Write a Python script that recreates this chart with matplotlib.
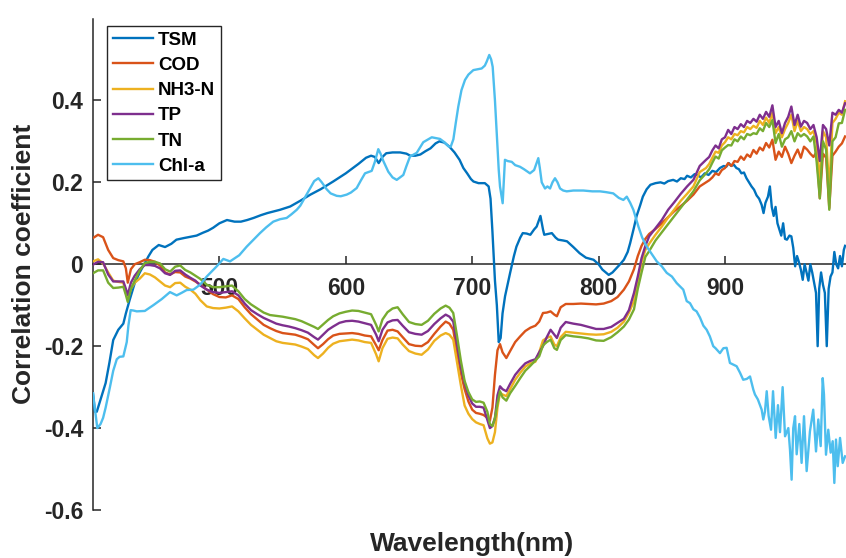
import numpy as np
import matplotlib
matplotlib.use("Agg")
import matplotlib.pyplot as plt

plt.rcParams['font.family'] = ['Liberation Sans', 'DejaVu Sans']
plt.rcParams['font.weight'] = 'bold'

# ---------------- data ----------------
series_names = ['TSM', 'COD', 'NH3-N', 'TP', 'TN', 'Chl-a']
colors = ['#0072BD', '#D95319', '#EDB120', '#7E2F8E', '#77AC30', '#4DBEEE']

tsm_wl = [400, 401.5, 403, 406, 410, 413, 416, 420, 424, 426,
          429, 433, 437, 440, 444, 447, 452, 457, 462, 466,
          472, 477, 482, 487, 491, 495, 500, 506, 512, 517,
          522, 527, 533, 538, 543, 548, 552, 556, 560, 564,
          572, 580, 590, 600, 610, 616, 620, 623, 626, 629,
          632, 637, 643, 648, 651, 655, 659, 663, 667, 671,
          674, 678, 682, 686, 690, 693, 696, 699, 701, 705,
          710, 713, 714.5, 716, 718, 719.5, 721, 722.5, 724, 726,
          730, 733, 735, 738, 740, 743, 746, 749, 751, 754,
          756, 757, 760, 763, 766, 768, 772, 775, 780, 785,
          790, 796, 800, 803, 808, 811, 814, 817, 820, 823,
          825, 828, 830, 833, 835, 838, 841, 845, 849, 852,
          855, 859, 862, 865, 868, 870, 873, 876, 878, 881,
          884, 887, 890, 893, 896, 899, 901, 903, 905, 907,
          909, 911, 913, 915, 917, 919, 921, 923, 925, 927,
          929, 930.5, 932, 934, 935.5, 937, 938.5, 940, 941.5, 943,
          944.5, 946, 947.5, 949, 951, 952.5, 954, 955.5, 957, 958.5,
          960, 961.5, 963, 964.5, 966, 967.5, 969, 970.5, 972, 973.3,
          974.5, 976, 977.5, 979, 980.5, 982, 983.5, 985, 986.5, 988,
          989.5, 991, 992.5, 994, 995]
tsm_r = [-0.315, -0.36, -0.36, -0.33, -0.29, -0.24, -0.185, -0.16, -0.145, -0.12,
         -0.087, -0.046, -0.02, -0.003, 0.02, 0.035, 0.047, 0.042, 0.05, 0.06,
         0.064, 0.067, 0.07, 0.077, 0.082, 0.089, 0.1, 0.108, 0.104, 0.104,
         0.108, 0.113, 0.12, 0.125, 0.129, 0.133, 0.137, 0.141, 0.148, 0.155,
         0.17, 0.183, 0.202, 0.222, 0.245, 0.26, 0.265, 0.262, 0.247, 0.262,
         0.271, 0.273, 0.273, 0.27, 0.265, 0.265, 0.268, 0.276, 0.283, 0.295,
         0.3, 0.297, 0.287, 0.273, 0.255, 0.235, 0.222, 0.208, 0.202, 0.198,
         0.198, 0.19, 0.16, 0.08, -0.04, -0.1, -0.19, -0.18, -0.12, -0.078,
         -0.021, 0.02, 0.043, 0.065, 0.076, 0.075, 0.072, 0.085, 0.092, 0.118,
         0.085, 0.072, 0.074, 0.076, 0.065, 0.06, 0.058, 0.056, 0.042, 0.027,
         0.016, 0.011, 0.0, -0.013, -0.026, -0.02, -0.01, 0.0, 0.011, 0.03,
         0.052, 0.09, 0.117, 0.145, 0.165, 0.183, 0.194, 0.198, 0.2, 0.197,
         0.203, 0.206, 0.202, 0.21, 0.208, 0.216, 0.212, 0.22, 0.218, 0.212,
         0.222, 0.218, 0.228, 0.225, 0.235, 0.24, 0.238, 0.247, 0.24, 0.243,
         0.235, 0.232, 0.222, 0.224, 0.21, 0.2, 0.19, 0.182, 0.168, 0.16,
         0.145, 0.125, 0.15, 0.165, 0.19, 0.14, 0.118, 0.14, 0.1, 0.085,
         0.07, 0.1, 0.062, 0.06, 0.07, 0.068, 0.04, -0.005, 0.02, 0.005,
         -0.013, -0.038, 0.0, -0.02, -0.04, 0.0, -0.02, -0.045, -0.07, -0.2,
         -0.06, -0.02, -0.05, -0.07, -0.2, -0.06, -0.03, -0.02, 0.03, 0.0,
         -0.01, 0.02, -0.005, 0.035, 0.045]

# shared wavelength grid for COD, NH3-N, TP, TN
wq_wl = [400, 404, 408, 412, 416, 420, 424, 426, 427.5, 430,
         433, 437, 441, 445, 449, 453, 457, 461, 465, 469,
         473, 477, 481, 485, 490, 495, 500, 505, 510, 515,
         520, 525, 530, 535, 540, 545, 550, 555, 560, 565,
         570, 575, 578, 582, 586, 590, 595, 600, 605, 610,
         615, 620, 624, 626, 629, 633, 637, 641, 645, 650,
         655, 660, 665, 670, 675, 679, 682, 685, 688, 691,
         694, 697, 700, 703, 706, 709, 712, 714, 716, 718,
         720, 722, 724, 727, 730, 734, 738, 742, 746, 750,
         753, 756, 759, 762, 765, 767, 770, 774, 780, 786,
         792, 798, 804, 810, 815, 820, 824, 828, 831, 834,
         837, 840, 845, 850, 855, 860, 865, 870, 875, 880,
         885,
         887.5, 890, 892.5, 895, 897.5, 900, 902.5, 905, 907.5, 910,
         912.5, 915, 917.5, 920, 922.5, 925, 927.5, 930, 932.5, 935,
         937.5, 940, 942.5, 945, 947.5, 950, 952.5, 955, 957.5, 960,
         962.5, 965, 967.5, 970, 972.5, 975, 977.5, 980, 982.5, 985,
         987.5, 990, 992.5, 995]

cod_r = [0.064, 0.072, 0.066, 0.035, 0.015, 0.01, 0.007, -0.01, -0.045, -0.012,
         0.0, 0.005, 0.011, 0.01, 0.006, -0.003, -0.02, -0.025, -0.019, -0.02,
         -0.03, -0.035, -0.042, -0.05, -0.062, -0.073, -0.08, -0.081, -0.076, -0.085,
         -0.105, -0.122, -0.135, -0.148, -0.156, -0.163, -0.168, -0.17, -0.172, -0.177,
         -0.183, -0.197, -0.205, -0.195, -0.183, -0.174, -0.17, -0.169, -0.168, -0.17,
         -0.174, -0.176, -0.198, -0.21, -0.185, -0.162, -0.16, -0.164, -0.178, -0.195,
         -0.199, -0.2, -0.19, -0.17, -0.152, -0.14, -0.145, -0.16, -0.215, -0.265,
         -0.305, -0.335, -0.355, -0.363, -0.365, -0.368, -0.375, -0.382, -0.35, -0.27,
         -0.21, -0.195, -0.215, -0.229, -0.212, -0.19, -0.176, -0.163, -0.155, -0.15,
         -0.14, -0.119, -0.118, -0.115, -0.123, -0.127, -0.105, -0.097, -0.097, -0.096,
         -0.097, -0.098, -0.096, -0.09, -0.08, -0.062, -0.042, -0.012, 0.02, 0.045,
         0.062, 0.074, 0.086, 0.1, 0.115, 0.13, 0.142, 0.155, 0.17, 0.19,
         0.2,
         0.205, 0.212, 0.222, 0.218, 0.23, 0.235, 0.247, 0.24, 0.252, 0.25,
         0.263, 0.255, 0.268, 0.262, 0.279, 0.27, 0.285, 0.278, 0.296, 0.285,
         0.304, 0.255, 0.275, 0.262, 0.287, 0.27, 0.247, 0.265, 0.28, 0.26,
         0.287, 0.28, 0.27, 0.262, 0.275, 0.161, 0.27, 0.26, 0.137, 0.265,
         0.275, 0.287, 0.295, 0.312]

nh3_r = [0.007, 0.012, 0.002, -0.02, -0.04, -0.043, -0.045, -0.07, -0.085, -0.06,
         -0.045, -0.035, -0.022, -0.025, -0.032, -0.042, -0.052, -0.056, -0.046, -0.045,
         -0.055, -0.062, -0.072, -0.088, -0.103, -0.107, -0.108, -0.106, -0.103, -0.115,
         -0.132, -0.148, -0.16, -0.172, -0.18, -0.188, -0.192, -0.194, -0.196, -0.201,
         -0.207, -0.222, -0.229, -0.218, -0.204, -0.194, -0.188, -0.186, -0.184, -0.186,
         -0.19, -0.192, -0.22, -0.237, -0.205, -0.182, -0.179, -0.181, -0.196, -0.212,
         -0.218, -0.221, -0.208, -0.187, -0.174, -0.168, -0.172, -0.184, -0.24, -0.295,
         -0.345, -0.365, -0.378, -0.386, -0.39, -0.393, -0.425, -0.438, -0.435, -0.41,
         -0.35, -0.314, -0.318, -0.322, -0.305, -0.282, -0.265, -0.25, -0.242, -0.238,
         -0.215, -0.186, -0.18, -0.176, -0.196, -0.2, -0.178, -0.165, -0.167, -0.169,
         -0.171, -0.172, -0.171, -0.165, -0.155, -0.14, -0.118, -0.09, -0.04, 0.005,
         0.035, 0.05, 0.072, 0.092, 0.114, 0.134, 0.155, 0.172, 0.19, 0.225,
         0.235,
         0.245, 0.26, 0.275, 0.272, 0.29, 0.298, 0.31, 0.305, 0.318, 0.315,
         0.325, 0.322, 0.335, 0.33, 0.338, 0.333, 0.35, 0.34, 0.358, 0.345,
         0.37, 0.32, 0.335, 0.31, 0.33, 0.345, 0.365, 0.325, 0.35, 0.325,
         0.335, 0.33, 0.318, 0.325, 0.295, 0.2, 0.325, 0.31, 0.18, 0.345,
         0.355, 0.37, 0.365, 0.398]

tp_r = [-0.001, 0.006, 0.005, -0.025, -0.042, -0.042, -0.042, -0.06, -0.075, -0.045,
        -0.028, -0.012, -0.002, -0.002, -0.004, -0.01, -0.022, -0.026, -0.016, -0.015,
        -0.025, -0.033, -0.04, -0.052, -0.062, -0.068, -0.07, -0.068, -0.066, -0.076,
        -0.096, -0.112, -0.122, -0.131, -0.138, -0.145, -0.149, -0.152, -0.156, -0.161,
        -0.167, -0.178, -0.184, -0.172, -0.16, -0.152, -0.143, -0.139, -0.138, -0.14,
        -0.144, -0.148, -0.172, -0.188, -0.16, -0.142, -0.137, -0.136, -0.15, -0.166,
        -0.17, -0.172, -0.163, -0.146, -0.132, -0.123, -0.128, -0.14, -0.195, -0.25,
        -0.29, -0.32, -0.34, -0.348, -0.348, -0.35, -0.38, -0.4, -0.395, -0.375,
        -0.32, -0.298, -0.305, -0.31, -0.292, -0.27, -0.255, -0.242, -0.236, -0.232,
        -0.215, -0.2, -0.178, -0.16, -0.172, -0.18, -0.155, -0.141, -0.145, -0.148,
        -0.153, -0.158, -0.158, -0.153, -0.143, -0.133, -0.112, -0.07, -0.03, 0.015,
        0.045, 0.068, 0.088, 0.108, 0.133, 0.152, 0.172, 0.19, 0.206, 0.24,
        0.255,
        0.262, 0.278, 0.29, 0.283, 0.305, 0.31, 0.328, 0.318, 0.335, 0.33,
        0.342, 0.335, 0.35, 0.345, 0.355, 0.348, 0.365, 0.355, 0.372, 0.36,
        0.388, 0.335, 0.35, 0.32, 0.345, 0.36, 0.385, 0.34, 0.365, 0.336,
        0.35, 0.345, 0.33, 0.34, 0.31, 0.252, 0.34, 0.33, 0.29, 0.37,
        0.365, 0.377, 0.37, 0.393]

tn_r = [-0.022, -0.015, -0.015, -0.045, -0.058, -0.057, -0.055, -0.075, -0.092, -0.06,
        -0.04, -0.015, 0.003, 0.006, 0.006, 0.002, -0.012, -0.018, -0.006, -0.003,
        -0.014, -0.02, -0.028, -0.036, -0.05, -0.056, -0.056, -0.054, -0.052, -0.066,
        -0.085, -0.098, -0.108, -0.118, -0.124, -0.126, -0.128, -0.131, -0.134, -0.139,
        -0.146, -0.153, -0.158, -0.147, -0.136, -0.127, -0.12, -0.116, -0.113, -0.114,
        -0.118, -0.122, -0.148, -0.164, -0.135, -0.117, -0.108, -0.105, -0.122, -0.141,
        -0.146, -0.148, -0.138, -0.121, -0.108, -0.101, -0.106, -0.119, -0.175, -0.235,
        -0.285, -0.312, -0.33, -0.336, -0.335, -0.338, -0.36, -0.39, -0.395, -0.375,
        -0.34, -0.31, -0.325, -0.333, -0.315, -0.297, -0.278, -0.26, -0.248, -0.235,
        -0.225, -0.198, -0.19, -0.184, -0.205, -0.209, -0.185, -0.173, -0.176, -0.178,
        -0.181, -0.186, -0.187, -0.178, -0.166, -0.152, -0.135, -0.11, -0.06, -0.02,
        0.018, 0.032, 0.058, 0.078, 0.098, 0.118, 0.138, 0.158, 0.178, 0.205,
        0.222,
        0.232, 0.248, 0.263, 0.258, 0.278, 0.285, 0.291, 0.29, 0.305, 0.3,
        0.312, 0.305, 0.318, 0.315, 0.32, 0.318, 0.332, 0.325, 0.345, 0.335,
        0.352, 0.296, 0.318, 0.287, 0.305, 0.31, 0.325, 0.3, 0.32, 0.312,
        0.318, 0.312, 0.3, 0.312, 0.25, 0.161, 0.3, 0.28, 0.133, 0.3,
        0.31, 0.344, 0.345, 0.377]

chl_wl = [400, 401, 403.4, 406, 408, 410, 413.4, 416, 418.8, 421,
          424, 426.7, 428, 429.8, 432, 434.6, 441, 447.7, 454.4, 460.9,
          466.2, 470, 474.1, 479.4, 484.7, 490, 497.9, 503.1, 508.4, 515.7,
          521.6, 527, 532.1, 537, 542.6, 548, 553.2, 557, 561.2, 564,
          568, 571.7, 575, 578.3, 581, 584.9, 588, 592.8, 596, 600.7,
          604, 608.6, 612, 615.2, 620.5, 623, 625.7, 627.5, 629.7, 633.6,
          637, 640.3, 645.5, 648, 650.8, 656.1, 661.3, 668, 674.5, 678,
          681.1, 683, 685.1, 687, 689, 691.5, 694.3, 697, 700.9, 704,
          707.5, 710, 711.5, 713.5, 715, 716.2, 718, 719.4, 721, 722,
          724.1, 725.9, 728, 731.3, 734, 737.8, 741, 745.7, 749, 752.3,
          753.5, 755, 757.6, 759.5, 761.6, 763.5, 765.5, 767.5, 769.5, 772,
          774.8, 780, 787.9, 795, 801.1, 806, 811.6, 816, 819.6, 822.3,
          825, 827.5, 831.5, 834.5, 838.1, 842, 846, 850, 853.9, 858,
          861.8, 864.4, 867, 869.7, 872.3, 875, 877.5, 880.2, 882.9, 885.5,
          888, 890.7, 892.5, 896, 898.7, 901.3, 903.9, 906.5, 909.2, 911.9,
          914.4, 917.2, 919.8, 922.4, 923.7, 926, 929, 930.3, 931.6, 933,
          934.5, 936.4, 938, 940.1, 941.9, 943.5, 945.6, 947.5, 950.1, 951.4,
          952.7, 954, 955.4, 956.7, 958.8, 960.6, 962.5, 964.6, 967.2, 969.8,
          972, 973.8, 975.7, 977.3, 978.3, 979.9, 981.7, 983.6, 985.2, 986.5,
          987.8, 989.2, 991, 993.1, 995]
chl_r = [-0.315, -0.34, -0.40, -0.39, -0.375, -0.35, -0.30, -0.26, -0.232, -0.226,
         -0.225, -0.19, -0.15, -0.112, -0.113, -0.115, -0.114, -0.1, -0.085, -0.068,
         -0.076, -0.07, -0.063, -0.062, -0.05, -0.03, -0.005, 0.013, 0.007, 0.022,
         0.043, 0.06, 0.076, 0.09, 0.104, 0.11, 0.113, 0.122, 0.133, 0.143,
         0.165, 0.185, 0.203, 0.21, 0.2, 0.183, 0.173, 0.167, 0.166, 0.17,
         0.175, 0.186, 0.205, 0.222, 0.228, 0.25, 0.281, 0.27, 0.252, 0.226,
         0.212, 0.206, 0.218, 0.24, 0.263, 0.272, 0.298, 0.31, 0.306, 0.298,
         0.288, 0.287, 0.305, 0.345, 0.385, 0.425, 0.45, 0.463, 0.474, 0.476,
         0.478, 0.485, 0.495, 0.511, 0.5, 0.482, 0.4, 0.32, 0.23, 0.19,
         0.149, 0.255, 0.252, 0.25, 0.242, 0.238, 0.232, 0.222, 0.23, 0.259,
         0.235, 0.2, 0.185, 0.19, 0.185, 0.2, 0.21, 0.2, 0.185, 0.18,
         0.178, 0.18, 0.18, 0.178, 0.178, 0.176, 0.173, 0.162, 0.157, 0.165,
         0.15, 0.133, 0.092, 0.065, 0.043, 0.025, 0.007, -0.005, -0.021, -0.03,
         -0.046, -0.054, -0.062, -0.09, -0.095, -0.11, -0.115, -0.13, -0.15, -0.16,
         -0.176, -0.2, -0.205, -0.217, -0.205, -0.204, -0.241, -0.245, -0.249, -0.265,
         -0.282, -0.28, -0.274, -0.306, -0.318, -0.33, -0.355, -0.379, -0.36, -0.31,
         -0.37, -0.404, -0.31, -0.424, -0.344, -0.41, -0.3, -0.42, -0.4, -0.452,
         -0.526, -0.40, -0.371, -0.464, -0.39, -0.485, -0.371, -0.505, -0.408, -0.355,
         -0.457, -0.379, -0.444, -0.278, -0.318, -0.465, -0.404, -0.46, -0.432, -0.534,
         -0.428, -0.493, -0.424, -0.485, -0.469]

x_ticks = [500, 600, 700, 800, 900]
y_ticks = [-0.6, -0.4, -0.2, 0, 0.2, 0.4]
y_tick_labels = ['-0.6', '-0.4', '-0.2', '0', '0.2', '0.4']

# ---------------- figure ----------------
W, H = 846, 558
fig = plt.figure(figsize=(W / 100, H / 100), dpi=100)
ax = fig.add_axes([93 / W, (H - 510) / H, 758.4 / W, 491.5 / H])

ink = '#262626'
data = [(tsm_wl, tsm_r), (wq_wl, cod_r), (wq_wl, nh3_r),
        (wq_wl, tp_r), (wq_wl, tn_r), (chl_wl, chl_r)]
handles = []
for (xw, yr), name, c in zip(data, series_names, colors):
    h, = ax.plot(xw, yr, color=c, lw=1.7, label=name, zorder=3,
                 solid_joinstyle='round')
    handles.append(h)

ax.set_xlim(400, 1000)
ax.set_ylim(-0.6, 0.6)
ax.set_xticks(x_ticks)
ax.set_xticklabels([str(t) for t in x_ticks])
ax.set_yticks(y_ticks)
ax.set_yticklabels(y_tick_labels)

for s in ['top', 'right']:
    ax.spines[s].set_visible(False)
ax.spines['bottom'].set_position(('data', 0))
for s in ['bottom', 'left']:
    ax.spines[s].set_color(ink)
    ax.spines[s].set_linewidth(1.1)

ax.tick_params(axis='both', direction='in', length=5.5, width=1.1,
               colors=ink, labelsize=16.5)
ax.tick_params(axis='x', pad=9)
ax.tick_params(axis='y', pad=7)
for lab in ax.get_xticklabels() + ax.get_yticklabels():
    lab.set_fontweight('bold')
    lab.set_color(ink)

ax.set_ylabel('Correlation coefficient', fontsize=19, fontweight='bold',
              color=ink, labelpad=6)
fig.text(472 / W, 1 - 551 / H, 'Wavelength(nm)', ha='center', va='baseline',
         fontsize=19, fontweight='bold', color=ink)

leg = ax.legend(handles=handles, loc='upper left',
                bbox_to_anchor=(107 / W, 1 - 26 / H),
                bbox_transform=fig.transFigure, borderaxespad=0,
                fontsize=13.5, frameon=True, fancybox=False, framealpha=1,
                edgecolor=ink, handlelength=2.15, handletextpad=0.28,
                labelspacing=0.43, borderpad=0.3)
leg.get_frame().set_linewidth(1.0)
for t in leg.get_texts():
    t.set_fontweight('bold')
    t.set_color('black')

fig.savefig('out.png', dpi=100)
